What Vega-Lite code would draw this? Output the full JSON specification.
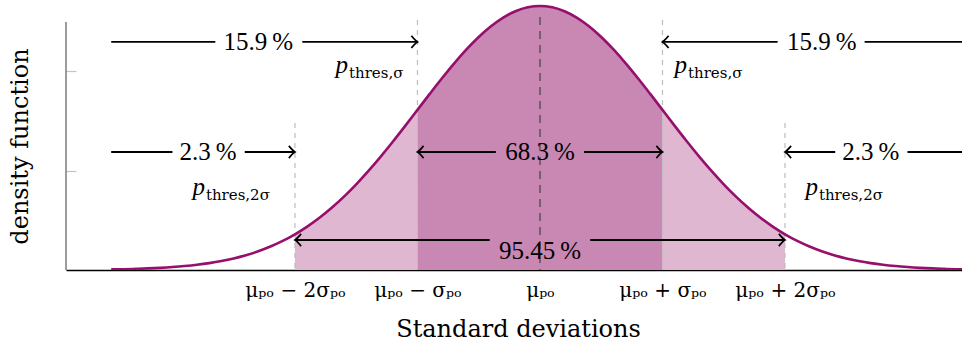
{
  "$schema": "https://vega.github.io/schema/vega-lite/v6.json",
  "width": 896,
  "height": 270,
  "autosize": {"type": "none"},
  "padding": {"left": 66, "top": 0, "right": 0, "bottom": 77},
  "config": {"view": {"stroke": null}, "font": "DejaVu Serif"},
  "datasets": {
    "curve": [
      {"sd": -3.5, "density": 0.000873}, {"sd": -3.4, "density": 0.001232}, {"sd": -3.3, "density": 0.001723},
      {"sd": -3.2, "density": 0.002384}, {"sd": -3.1, "density": 0.003267}, {"sd": -3.0, "density": 0.004432},
      {"sd": -2.9, "density": 0.005953}, {"sd": -2.8, "density": 0.007915}, {"sd": -2.7, "density": 0.010421},
      {"sd": -2.6, "density": 0.013583}, {"sd": -2.5, "density": 0.017528}, {"sd": -2.4, "density": 0.022395},
      {"sd": -2.3, "density": 0.028327}, {"sd": -2.2, "density": 0.035475}, {"sd": -2.1, "density": 0.043984},
      {"sd": -2.0, "density": 0.053991}, {"sd": -1.9, "density": 0.065616}, {"sd": -1.8, "density": 0.07895},
      {"sd": -1.7, "density": 0.094049}, {"sd": -1.6, "density": 0.110921}, {"sd": -1.5, "density": 0.129518},
      {"sd": -1.4, "density": 0.149727}, {"sd": -1.3, "density": 0.171369}, {"sd": -1.2, "density": 0.194186},
      {"sd": -1.1, "density": 0.217852}, {"sd": -1.0, "density": 0.241971}, {"sd": -0.9, "density": 0.266085},
      {"sd": -0.8, "density": 0.289692}, {"sd": -0.7, "density": 0.312254}, {"sd": -0.6, "density": 0.333225},
      {"sd": -0.5, "density": 0.352065}, {"sd": -0.4, "density": 0.36827}, {"sd": -0.3, "density": 0.381388},
      {"sd": -0.2, "density": 0.391043}, {"sd": -0.1, "density": 0.396953}, {"sd": 0.0, "density": 0.398942},
      {"sd": 0.1, "density": 0.396953}, {"sd": 0.2, "density": 0.391043}, {"sd": 0.3, "density": 0.381388},
      {"sd": 0.4, "density": 0.36827}, {"sd": 0.5, "density": 0.352065}, {"sd": 0.6, "density": 0.333225},
      {"sd": 0.7, "density": 0.312254}, {"sd": 0.8, "density": 0.289692}, {"sd": 0.9, "density": 0.266085},
      {"sd": 1.0, "density": 0.241971}, {"sd": 1.1, "density": 0.217852}, {"sd": 1.2, "density": 0.194186},
      {"sd": 1.3, "density": 0.171369}, {"sd": 1.4, "density": 0.149727}, {"sd": 1.5, "density": 0.129518},
      {"sd": 1.6, "density": 0.110921}, {"sd": 1.7, "density": 0.094049}, {"sd": 1.8, "density": 0.07895},
      {"sd": 1.9, "density": 0.065616}, {"sd": 2.0, "density": 0.053991}, {"sd": 2.1, "density": 0.043984},
      {"sd": 2.2, "density": 0.035475}, {"sd": 2.3, "density": 0.028327}, {"sd": 2.4, "density": 0.022395},
      {"sd": 2.5, "density": 0.017528}, {"sd": 2.6, "density": 0.013583}, {"sd": 2.7, "density": 0.010421},
      {"sd": 2.8, "density": 0.007915}, {"sd": 2.9, "density": 0.005953}, {"sd": 3.0, "density": 0.004432},
      {"sd": 3.1, "density": 0.003267}, {"sd": 3.2, "density": 0.002384}, {"sd": 3.3, "density": 0.001723},
      {"sd": 3.4, "density": 0.001232}, {"sd": 3.5, "density": 0.000873}
    ],
    "guides": [
      {"sd": -2, "density": 0.2222, "kind": "bound"},
      {"sd": -1, "density": 0.3778, "kind": "bound"},
      {"sd": 1, "density": 0.3778, "kind": "bound"},
      {"sd": 2, "density": 0.2222, "kind": "bound"},
      {"sd": 0, "density": 0.3823, "kind": "mean"}
    ],
    "yaxisline": [{"sd": -3.869, "density": 0.3748}],
    "segments": [
      {"sd": -3.5, "sd2": -2.65, "density": 0.3446},
      {"sd": -1.94, "sd2": -1.0, "density": 0.3446},
      {"sd": 1.0, "sd2": 1.94, "density": 0.3446},
      {"sd": 2.65, "sd2": 3.5, "density": 0.3446},
      {"sd": -3.5, "sd2": -3.0, "density": 0.1783},
      {"sd": -2.41, "sd2": -2.0, "density": 0.1783},
      {"sd": -1.0, "sd2": -0.36, "density": 0.1783},
      {"sd": 0.36, "sd2": 1.0, "density": 0.1783},
      {"sd": 2.0, "sd2": 2.41, "density": 0.1783},
      {"sd": 3.0, "sd2": 3.5, "density": 0.1783},
      {"sd": -2.0, "sd2": -0.41, "density": 0.0453},
      {"sd": 0.41, "sd2": 2.0, "density": 0.0453}
    ],
    "heads": [
      {"sd": -1, "density": 0.3446, "dir": "right"},
      {"sd": 1, "density": 0.3446, "dir": "left"},
      {"sd": -2, "density": 0.1783, "dir": "right"},
      {"sd": -1, "density": 0.1783, "dir": "left"},
      {"sd": 1, "density": 0.1783, "dir": "right"},
      {"sd": 2, "density": 0.1783, "dir": "left"},
      {"sd": -2, "density": 0.0453, "dir": "left"},
      {"sd": 2, "density": 0.0453, "dir": "right"}
    ],
    "shares": [
      {"sd": -2.3, "density": 0.3446, "label": "15.9\u2009%"},
      {"sd": 2.3, "density": 0.3446, "label": "15.9\u2009%"},
      {"sd": -2.71, "density": 0.1783, "label": "2.3\u2009%"},
      {"sd": 2.7, "density": 0.1783, "label": "2.3\u2009%"},
      {"sd": 0, "density": 0.1783, "label": "68.3\u2009%"},
      {"sd": 0, "density": 0.0287, "label": "95.45\u2009%"}
    ],
    "thresholds": [
      {"sd": -1.567, "density": 0.2977, "sub": "thres,σ"},
      {"sd": 1.2, "density": 0.2977, "sub": "thres,σ"},
      {"sd": -2.735, "density": 0.1133, "sub": "thres,2σ"},
      {"sd": 2.269, "density": 0.1133, "sub": "thres,2σ"}
    ]
  },
  "encoding": {
    "x": {
      "field": "sd",
      "type": "quantitative",
      "scale": {"domain": [-3.869, 3.445], "nice": false, "zero": false},
      "axis": {
        "title": "Standard deviations",
        "values": [-2, -1, 0, 1, 2],
        "labelExpr": "datum.value == -2 ? 'μₚₒ − 2σₚₒ' : datum.value == -1 ? 'μₚₒ − σₚₒ' : datum.value == 0 ? 'μₚₒ' : datum.value == 1 ? 'μₚₒ + σₚₒ' : 'μₚₒ + 2σₚₒ'",
        "ticks": false,
        "grid": false,
        "domainColor": "#000000",
        "domainWidth": 1.5,
        "labelFont": "DejaVu Serif",
        "labelFontSize": 20,
        "labelColor": "#000000",
        "labelPadding": 10,
        "labelFlush": false,
        "labelOverlap": false,
        "titleFont": "DejaVu Serif",
        "titleFontSize": 24,
        "titleFontWeight": "normal",
        "titleColor": "#000000",
        "titleX": 452,
        "titleY": 66,
        "titleBaseline": "alphabetic"
      }
    },
    "y": {
      "field": "density",
      "type": "quantitative",
      "scale": {"domain": [0, 0.408], "nice": false, "zero": false},
      "axis": {
        "title": "density function",
        "values": [0.15, 0.3],
        "labels": false,
        "domain": false,
        "grid": false,
        "tickSize": -10,
        "tickColor": "#c4c4c4",
        "tickWidth": 1.2,
        "titleFont": "DejaVu Serif",
        "titleFontSize": 24,
        "titleFontWeight": "normal",
        "titleColor": "#000000",
        "titleAngle": -90,
        "titleX": -38.5,
        "titleY": 146,
        "titleAlign": "center",
        "titleBaseline": "alphabetic"
      }
    }
  },
  "layer": [
    {
      "data": {"name": "curve"},
      "transform": [{"filter": {"field": "sd", "range": [-2, -1]}}],
      "mark": {"type": "area", "color": "#dfb7d0", "interpolate": "monotone"}
    },
    {
      "data": {"name": "curve"},
      "transform": [{"filter": {"field": "sd", "range": [1, 2]}}],
      "mark": {"type": "area", "color": "#dfb7d0", "interpolate": "monotone"}
    },
    {
      "data": {"name": "curve"},
      "transform": [{"filter": {"field": "sd", "range": [-1, 1]}}],
      "mark": {"type": "area", "color": "#c987b3", "interpolate": "monotone"}
    },
    {
      "data": {"name": "guides"},
      "transform": [{"filter": "datum.kind == 'bound'"}],
      "mark": {"type": "rule", "color": "#bdbdbd", "strokeWidth": 1.2, "strokeDash": [5, 5]},
      "encoding": {"y2": {"datum": 0}}
    },
    {
      "data": {"name": "guides"},
      "transform": [{"filter": "datum.kind == 'mean'"}],
      "mark": {"type": "rule", "color": "#4a4a4a", "strokeWidth": 1.3, "strokeDash": [8, 6]},
      "encoding": {"y2": {"datum": 0}}
    },
    {
      "data": {"name": "curve"},
      "mark": {"type": "line", "color": "#960f6d", "strokeWidth": 2.6, "interpolate": "monotone", "clip": true}
    },
    {
      "data": {"name": "yaxisline"},
      "mark": {"type": "rule", "color": "#666666", "strokeWidth": 1.3},
      "encoding": {"y2": {"datum": 0}}
    },
    {
      "data": {"name": "segments"},
      "mark": {"type": "rule", "color": "#000000", "strokeWidth": 1.8, "clip": true},
      "encoding": {"x2": {"field": "sd2"}}
    },
    {
      "data": {"name": "heads"},
      "mark": {"type": "point", "filled": false, "color": "#000000", "strokeWidth": 1.7, "size": 150, "opacity": 1},
      "encoding": {
        "shape": {
          "field": "dir",
          "type": "nominal",
          "scale": {
            "domain": ["right", "left"],
            "range": [
              "M -1 -1 C -0.55 -0.45 -0.2 -0.12 0 0 C -0.2 0.12 -0.55 0.45 -1 1",
              "M 1 -1 C 0.55 -0.45 0.2 -0.12 0 0 C 0.2 0.12 0.55 0.45 1 1"
            ]
          },
          "legend": null
        }
      }
    },
    {
      "data": {"name": "shares"},
      "mark": {"type": "text", "font": "Liberation Serif", "fontSize": 25, "color": "#000000", "baseline": "middle", "align": "center"},
      "encoding": {"text": {"field": "label"}}
    },
    {
      "data": {"name": "thresholds"},
      "mark": {"type": "text", "font": "Liberation Serif", "fontStyle": "italic", "fontSize": 25, "color": "#000000", "baseline": "alphabetic", "align": "right", "text": "p"}
    },
    {
      "data": {"name": "thresholds"},
      "mark": {"type": "text", "font": "DejaVu Serif", "fontSize": 15, "color": "#000000", "baseline": "alphabetic", "align": "left", "dx": 1, "dy": 5},
      "encoding": {"text": {"field": "sub"}}
    }
  ]
}
